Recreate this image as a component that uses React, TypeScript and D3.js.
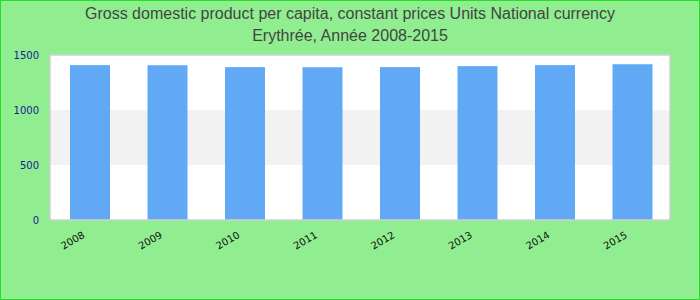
import React from "react";
import * as d3 from "d3";

const years: string[] = ["2008", "2009", "2010", "2011", "2012", "2013", "2014", "2015"];
const gdpValues: number[] = [1408, 1407, 1390, 1389, 1390, 1399, 1408, 1416];
const yTicks: number[] = [0, 500, 1000, 1500];
const titleLines: string[] = [
  "Gross domestic product per capita, constant prices Units National currency",
  "Erythrée, Année 2008-2015",
];

const W = 700;
const H = 300;
const margin = { left: 50, right: 30, top: 55, bottom: 80 };

export default function App() {
  const innerW = W - margin.left - margin.right;
  const innerH = H - margin.top - margin.bottom;
  const x = d3
    .scaleBand<string>()
    .domain(years)
    .range([1.25, innerW + 1.25])
    .paddingInner(0.484)
    .paddingOuter(0.242);
  const y = d3.scaleLinear().domain([0, 1500]).range([innerH, 0]);
  const bands = yTicks.slice(0, -1).map((t, i) => ({ from: t, to: yTicks[i + 1], i }));

  return (
    <svg
      width={W}
      height={H}
      style={{ position: "absolute", left: 0, top: 0, display: "block" }}
    >
      <rect x={0.5} y={0.5} width={W - 1} height={H - 1} fill="#90ee90" stroke="#22e022" strokeWidth={1} />
      {titleLines.map((t, i) => (
        <text
          key={i}
          x={W / 2}
          y={19 + i * 22}
          textAnchor="middle"
          fontFamily="'Liberation Sans', Arial, sans-serif"
          fontSize={16}
          fill="#444"
        >
          {t}
        </text>
      ))}
      <g transform={`translate(${margin.left},${margin.top})`}>
        {bands.map((b) => (
          <rect
            key={b.i}
            x={0}
            y={y(b.to)}
            width={innerW}
            height={y(b.from) - y(b.to)}
            fill={b.i % 2 === 1 ? "#f2f2f2" : "#ffffff"}
          />
        ))}
        {years.map((yr, i) => (
          <rect
            key={yr}
            x={x(yr)}
            y={y(gdpValues[i])}
            width={x.bandwidth()}
            height={innerH - y(gdpValues[i])}
            fill="#62a9f5"
          />
        ))}
        <rect x={0} y={0} width={innerW} height={innerH} fill="none" stroke="#d0d0d0" strokeWidth={1.5} />
        {yTicks.map((t) => (
          <text
            key={t}
            x={-11}
            y={y(t)}
            dy="0.35em"
            textAnchor="end"
            fontFamily="'DejaVu Sans', sans-serif"
            fontSize={10}
            fill="#1a1a96"
          >
            {t}
          </text>
        ))}
        {years.map((yr) => (
          <text
            key={yr}
            transform={`translate(${(x(yr) as number) + x.bandwidth() / 2 - 4.5},${innerH + 17}) rotate(-30)`}
            textAnchor="end"
            fontFamily="'DejaVu Sans', sans-serif"
            fontSize={10}
            fill="#111"
          >
            {yr}
          </text>
        ))}
      </g>
    </svg>
  );
}
